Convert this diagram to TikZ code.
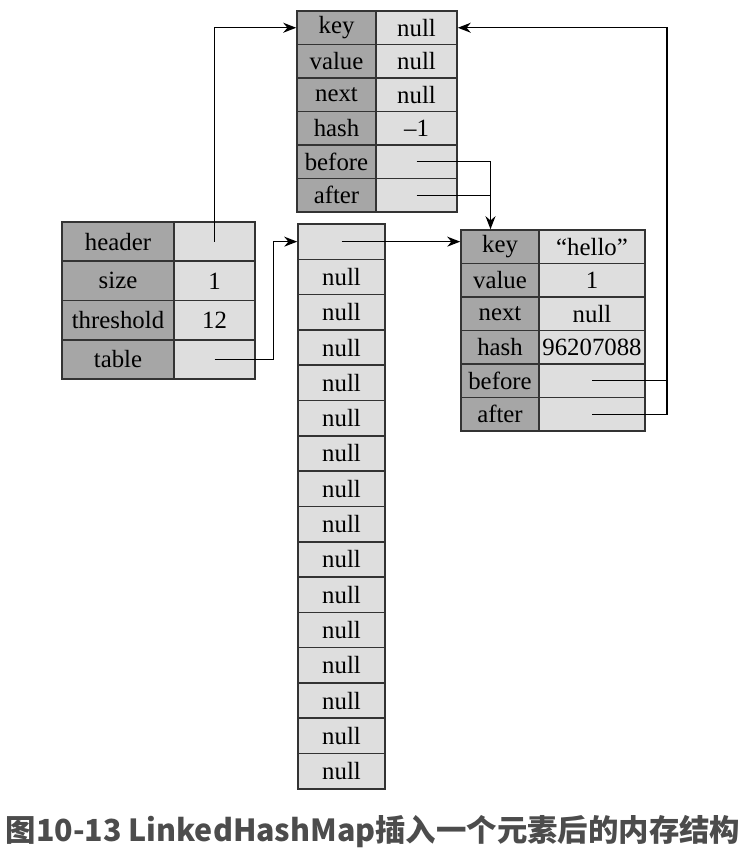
\documentclass[tikz,border=0pt]{standalone}
\usepackage{fontspec}
\setmainfont{Liberation Serif}
\newfontfamily\cjk{Noto Sans CJK SC}
\usetikzlibrary{arrows.meta}
\begin{document}
\begin{tikzpicture}[x=0.5pt,y=-0.5pt,
    cell/.style={draw=black!80,line width=0.8pt,inner sep=0pt,minimum height=16.75pt,
      font=\fontsize{12.4}{14}\selectfont},
    namecell/.style={cell,fill=black!35},
    datacell/.style={cell,fill=black!13},
    link/.style={line width=0.65pt,-{Stealth[length=6.5pt,width=5pt]}},
    wire/.style={line width=0.65pt}]
  \useasboundingbox (0,0) rectangle (746,862);
  % header entry
  \foreach \k/\v [count=\i] in {key/null,value/null,next/null,hash/{–1},before/{},after/{}}{
    \node[namecell,minimum width=39.5pt] (h\i k) at (336.5,{11+33.5*(\i-0.5)}) {\k};
    \node[datacell,minimum width=40.5pt] (h\i v) at (416.5,{11+33.5*(\i-0.5)}) {\v};
  }
  % the map itself
  \foreach \k/\v [count=\i] in {header/{},size/1,threshold/12,table/{}}{
    \node[namecell,minimum width=56pt,minimum height=19.6pt] (m\i k) at (118,{222+39.25*(\i-0.5)}) {\k};
    \node[datacell,minimum width=40.5pt,minimum height=19.6pt] (m\i v) at (214.5,{222+39.25*(\i-0.5)}) {\v};
  }
  % table array
  \node[datacell,minimum width=43.5pt,minimum height=17.65pt] (t1) at (341.5,{224+35.3*0.5}) {};
  \foreach \i in {2,...,16}
    \node[datacell,minimum width=43.5pt,minimum height=17.65pt] (t\i) at (341.5,{224+35.3*(\i-0.5)}) {null};
  % new entry
  \foreach \k/\v [count=\i] in {key/“hello”,value/1,next/null,hash/96207088,before/{},after/{}}{
    \node[namecell,minimum width=39pt] (e\i k) at (500,{230+33.5*(\i-0.5)}) {\k};
    \node[datacell,minimum width=53pt] (e\i v) at (592,{230+33.5*(\i-0.5)}) {\v};
  }
  \coordinate (hjoin) at ([xshift=37pt]h5v.center);
  \coordinate (ejoin) at ([xshift=37.5pt]e5v.center);
  \draw[link] (m1v.center) |- (h1k.west);
  \draw[link] (m4v.center) -| ([xshift=-12pt]t1.west) -- (t1.west);
  \draw[link] (t1.center) -- (t1.center -| e1k.west);
  \draw[link] (h5v.center) -- (hjoin) -- (hjoin |- e1k.north);
  \draw[wire] (h6v.center) -- (h6v.center -| hjoin);
  \draw[link] (e6v.center) -- (e6v.center -| ejoin) |- (h1v.east);
  \draw[wire] (e5v.center) -- (e5v.center -| ejoin);
  \node[font={\cjk\bfseries\fontsize{15.2}{18}\selectfont},text=black!70] (caption) at (373,832)
    {图10-13 LinkedHashMap插入一个元素后的内存结构};
\end{tikzpicture}
\end{document}
